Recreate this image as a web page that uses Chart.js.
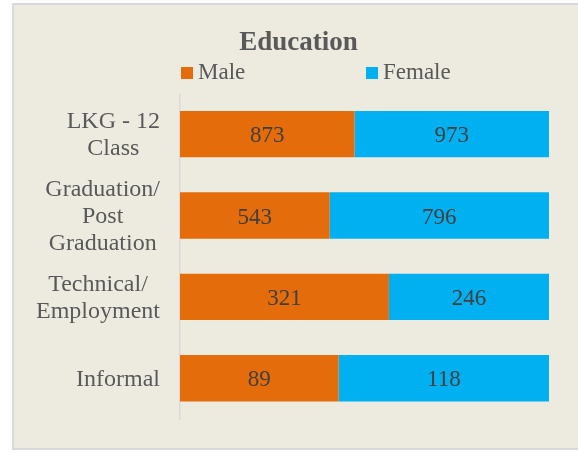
<!DOCTYPE html>
<html>
<head>
<meta charset="utf-8">
<script src="https://cdn.jsdelivr.net/npm/chart.js@4"></script>
<style>
    body { margin: 0; background: #ffffff; }
    #box {
        position: absolute;
        left: 12px;
        top: 3px;
        width: 566px;
        height: 443px;
        border: 2px solid #D9D9D9;
        border-right: none;
        background: #EDEBE0;
    }
    #chart { display: block; }
</style>
</head>
<body>
<div id="box">
    <canvas id="chart" width="566" height="443"></canvas>
</div>
<script>
const categories = [
    ['LKG - 12', 'Class'],
    ['Graduation/', 'Post', 'Graduation'],
    ['Technical/', 'Employment'],
    ['Informal']
];
const seriesNames = ['Male', 'Female'];
const maleValues = [873, 543, 321, 89];
const femaleValues = [973, 796, 246, 118];
const seriesColors = ['#E46C0A', '#00B0F0'];

const serif = "'Liberation Serif', 'Times New Roman', serif";

// 100% stacked: share of each row
const rowTotals = maleValues.map((v, i) => v + femaleValues[i]);
const malePct = maleValues.map((v, i) => v / rowTotals[i] * 100);
const femalePct = femaleValues.map((v, i) => v / rowTotals[i] * 100);
const rawValues = [maleValues, femaleValues];

const labelPlugin = {
    id: 'labelPlugin',
    afterDraw(chart) {
        const ctx = chart.ctx;
        const area = chart.chartArea;
        const yScale = chart.scales.y;
        ctx.save();

        // category labels, lines centred within each block, block right aligned
        ctx.font = `24px ${serif}`;
        ctx.fillStyle = '#595959';
        ctx.textAlign = 'center';
        ctx.textBaseline = 'middle';
        const right = area.left - 20;
        categories.forEach((lines, i) => {
            const maxW = Math.max(...lines.map(l => ctx.measureText(l).width));
            const cx = right - maxW / 2;
            const cy = yScale.getPixelForValue(i) + 1.5;
            lines.forEach((line, j) => {
                ctx.fillText(line, cx, cy + (j - (lines.length - 1) / 2) * 27);
            });
        });

        // values inside the bars
        ctx.font = `23px ${serif}`;
        ctx.fillStyle = '#404040';
        chart.data.datasets.forEach((ds, d) => {
            chart.getDatasetMeta(d).data.forEach((bar, i) => {
                ctx.fillText(String(rawValues[d][i]), (bar.x + bar.base) / 2, bar.y + 2);
            });
        });

        // legend
        ctx.textAlign = 'left';
        ctx.textBaseline = 'alphabetic';
        const legendX = [area.left + 1, area.left + 186];
        seriesNames.forEach((name, d) => {
            ctx.fillStyle = seriesColors[d];
            ctx.fillRect(legendX[d], 62, 12, 12);
            ctx.fillStyle = '#595959';
            ctx.fillText(name, legendX[d] + 17, 74);
        });
        ctx.restore();
    }
};

new Chart(document.getElementById('chart').getContext('2d'), {
    type: 'bar',
    data: {
        labels: categories,
        datasets: [
            { label: seriesNames[0], data: malePct, backgroundColor: seriesColors[0] },
            { label: seriesNames[1], data: femalePct, backgroundColor: seriesColors[1] }
        ]
    },
    options: {
        indexAxis: 'y',
        responsive: false,
        animation: false,
        datasets: {
            bar: { categoryPercentage: 1, barPercentage: 0.57 }
        },
        layout: {
            padding: { left: 34, right: 31, top: 0, bottom: 29 }
        },
        scales: {
            x: { stacked: true, min: 0, max: 100, display: false },
            y: {
                stacked: true,
                grid: { display: false },
                ticks: { display: false },
                border: { display: true, color: '#D9D9D9', width: 1.5 },
                afterFit: (scale) => { scale.width = 132; }
            }
        },
        plugins: {
            legend: { display: false },
            tooltip: { enabled: false },
            title: {
                display: true,
                text: 'Education',
                color: '#595959',
                font: { family: serif, size: 27, weight: 'bold' },
                padding: { top: 22, bottom: 34 }
            }
        }
    },
    plugins: [labelPlugin]
});
</script>
</body>
</html>
